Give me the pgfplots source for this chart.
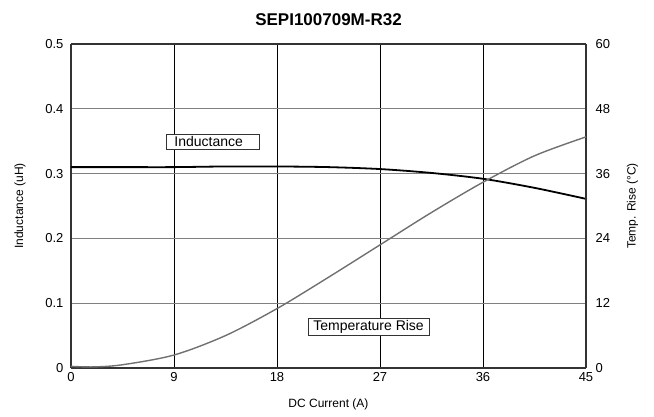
\documentclass[border=0pt]{standalone}
\usepackage{pgfplots}
\pgfplotsset{compat=1.18}
\usepackage{fontspec}
\setmainfont{Liberation Sans}
\definecolor{tempgray}{HTML}{707070}
\definecolor{gridgray}{HTML}{808080}
\definecolor{frame}{HTML}{333333}

\pgfplotstableread{
x    L
0    0.310
4.5  0.310
9    0.310
13.5 0.311
18   0.311
22.5 0.310
27   0.307
31.5 0.301
36   0.292
40.5 0.278
45   0.261
}\inductance

\pgfplotstableread{
x    T
0    0.3
2    0.2
4.5  0.6
9    2.4
13.5 6.0
18   11.0
22.5 16.8
27   22.8
31.5 28.8
36   34.4
40.5 39.3
45   42.8
}\temprise

\begin{document}
\begin{tikzpicture}[x=1pt,y=1pt]
\path[use as bounding box] (-71,-49) rectangle (583,368);
\begin{axis}[
  name=left,
  scale only axis, width=515pt, height=324pt,
  xmin=0, xmax=45, ymin=0, ymax=0.5,
  xtick={0,9,...,45}, ytick={0,0.1,...,0.5},
  yticklabels={0,0.1,0.2,0.3,0.4,0.5},
  major tick length=0pt,
  tick label style={font=\fontsize{13}{14}\selectfont},
  yticklabel style={xshift=-4pt},
  xticklabel style={yshift=-1pt},
  /pgf/number format/assume math mode=true,
  xlabel={DC Current (A)}, ylabel={Inductance (uH)},
  label style={font=\fontsize{12}{13}\selectfont},
  xlabel style={yshift=-10pt},
  ylabel style={yshift=13pt},
  title={\textbf{SEPI100709M-R32}},
  title style={font=\fontsize{17}{19}\selectfont, yshift=9pt},
  xmajorgrids, ymajorgrids,
  x grid style={black, line width=0.8pt},
  y grid style={gridgray, line width=1.2pt},
  axis line style={frame, line width=1.6pt},
  axis y line*=left,
  clip=false,
]
\addplot[black, line width=1.8pt, smooth] table[x=x, y=L] {\inductance};
\node[draw=black!80, line width=0.6pt, fill=white, inner ysep=2pt, inner xsep=0pt,
  text width=93pt, font=\fontsize{14}{15}\selectfont]
  at (axis cs:12.4,0.349) {\hspace*{8pt}Inductance};
\node[draw=black!80, line width=0.6pt, fill=white, inner ysep=2pt, inner xsep=5pt,
  font=\fontsize{14}{15}\selectfont]
  at (axis cs:26.0,0.063) {Temperature Rise};
\end{axis}
\begin{axis}[
  scale only axis, width=515pt, height=324pt,
  xmin=0, xmax=45, ymin=0, ymax=60,
  xtick=\empty, ytick={0,12,...,60},
  major tick length=0pt,
  tick label style={font=\fontsize{13}{14}\selectfont},
  yticklabel style={xshift=6pt},
  /pgf/number format/assume math mode=true,
  ylabel={Temp. Rise (°C)},
  label style={font=\fontsize{12}{13}\selectfont},
  ylabel style={yshift=-10pt},
  axis y line*=right, axis x line=none,
  axis line style={frame, line width=1.6pt},
]
\addplot[tempgray, line width=1.4pt, smooth] table[x=x, y=T] {\temprise};
\end{axis}
\end{tikzpicture}
\end{document}
